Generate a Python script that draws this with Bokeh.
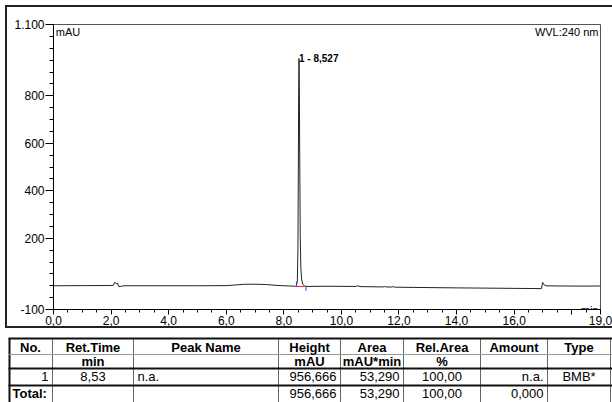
from bokeh.plotting import figure
from bokeh.models import Range1d, FixedTicker, Label
from bokeh.embed import file_html
from bokeh.resources import INLINE
from bokeh.core.properties import value

FONT = "Liberation Sans"

# ---- chromatogram trace ----
time_min = [0.0, 1.0, 2.0, 2.08, 2.12, 2.16, 2.19, 2.22, 2.27, 2.32, 2.45, 3.5, 5.0,
            6.0, 6.3, 6.6, 7.0, 7.4, 7.8, 8.2, 8.40, 8.44, 8.47, 8.49, 8.505, 8.515,
            8.527, 8.54, 8.555, 8.57, 8.59, 8.62, 8.66, 8.72, 8.8, 9.5, 10.5, 10.57,
            10.65, 11.45, 11.5, 11.55, 11.75, 11.8, 11.85, 12.5, 14.0, 15.5, 16.95,
            16.99, 17.03, 17.1, 17.5, 18.5, 19.0]
signal_mau = [0, 0.5, 1, 2, 14, 12, 8, 12, -4, -3, 0, 0, 0,
              0.5, 3, 6, 6.5, 5, 1, -1, -2, 2, 20, 150, 500, 800,
              956.666, 820, 500, 220, 80, 25, 6, -1, -3, -2, -3, 0,
              -3.5, -5, -3, -5, -5.5, -3.5, -6, -7, -9, -10.5, -12,
              14, 5, 0, -1, -1.5, -1]
assert len(time_min) == len(signal_mau)

# ---- peak ----
peak_label = ["1 - 8,527"]
peak_rt = [8.527]
peak_height = [956.666]
peak_start = [8.44]
peak_end = [8.77]
peak_base = [-3.0]

# ---- axes ----
x_ticks = [0, 2, 4, 6, 8, 10, 12, 14, 16, 18, 19]
x_tick_labels = ["0,0", "2,0", "4,0", "6,0", "8,0", "10,0", "12,0", "14,0", "16,0", "", "19,0"]
y_ticks = [-100, 200, 400, 600, 800, 1100]
y_tick_labels = ["-100", "200", "400", "600", "800", "1.100"]

# ---- peak table ----
table_headers = ["No.", "Ret.Time", "Peak Name", "Height", "Area", "Rel.Area", "Amount", "Type"]
table_units = ["", "min", "", "mAU", "mAU*min", "%", "", ""]
row_peak1 = ["1", "8,53", "n.a.", "956,666", "53,290", "100,00", "n.a.", "BMB*"]
row_total = ["Total:", "", "", "956,666", "53,290", "100,00", "0,000", ""]

# ================= chromatogram figure =================
p = figure(width=612, height=331, x_range=Range1d(0, 19), y_range=Range1d(-100, 1100),
           output_backend="svg", toolbar_location=None,
           min_border_left=53, min_border_right=12, min_border_top=24, min_border_bottom=22)
p.border_fill_alpha = 0
p.background_fill_color = "white"
p.outline_line_color = "#555555"
p.outline_line_width = 1
p.xgrid.visible = False
p.ygrid.visible = False
p.styles = {"box-shadow": ("inset 5px 5px 0 0 white, inset 0 -3px 0 0 white, "
                           "inset 7px 7px 0 0 #222222, inset 0 -5px 0 0 #222222")}

p.xaxis.ticker = FixedTicker(ticks=x_ticks, minor_ticks=[i * 0.5 for i in range(0, 39)])
p.xaxis.major_label_overrides = dict(zip(x_ticks, x_tick_labels))
p.yaxis.ticker = FixedTicker(ticks=y_ticks, minor_ticks=list(range(-100, 1101, 50)))
p.yaxis.major_label_overrides = dict(zip(y_ticks, y_tick_labels))
for ax in (p.xaxis[0], p.yaxis[0]):
    ax.axis_line_color = "black"
    ax.major_tick_line_color = "black"
    ax.minor_tick_line_color = "black"
    ax.major_label_text_font = FONT
    ax.major_label_text_font_size = "12px"
    ax.major_label_text_color = "black"
    ax.major_tick_in = 0
    ax.minor_tick_in = 0
p.yaxis.major_tick_out = 8
p.yaxis.minor_tick_out = 4
p.yaxis.major_label_standoff = 1
p.xaxis.major_tick_out = 5
p.xaxis.minor_tick_out = 3
p.xaxis.major_label_standoff = 1

p.line(time_min, signal_mau, line_color="#222222", line_width=1)

# integration markers
p.segment(x0=peak_start, y0=[b + 20 for b in peak_base], x1=peak_start, y1=[b - 2 for b in peak_base],
          line_color="#2040ff", line_width=1)
p.segment(x0=peak_end, y0=[b + 2 for b in peak_base], x1=peak_end, y1=[b - 18 for b in peak_base],
          line_color="#2040ff", line_width=1)
p.segment(x0=peak_start, y0=peak_base, x1=peak_end, y1=peak_base, line_color="#ff2020", line_width=1)

p.add_layout(Label(x=peak_rt[0], y=peak_height[0], text=peak_label[0], text_font=FONT,
                   text_font_size="10px", text_font_style="bold", text_align="left",
                   text_baseline="alphabetic", text_color="black"))
p.add_layout(Label(x=0.08, y=1092, text="mAU", text_font=FONT, text_font_size="11px",
                   text_align="left", text_baseline="top", text_color="black"))
p.add_layout(Label(x=18.93, y=1092, text="WVL:240 nm", text_font=FONT, text_font_size="11px",
                   text_align="right", text_baseline="top", text_color="black"))
p.add_layout(Label(x=18.93, y=-100, text="min", text_font=FONT, text_font_size="11px",
                   text_align="right", text_baseline="alphabetic", text_color="black"))

# ================= table figure =================
TW, TH = 612, 71
t = figure(width=TW, height=TH, x_range=Range1d(0, TW), y_range=Range1d(TH, 0),
           output_backend="svg", toolbar_location=None,
           min_border_left=0, min_border_right=0, min_border_top=0, min_border_bottom=0)
t.xaxis.visible = False
t.yaxis.visible = False
t.xgrid.visible = False
t.ygrid.visible = False
t.outline_line_color = None
t.border_fill_color = "white"

col_edges = [8, 52, 133, 278, 340, 403, 480, 547, 610]
row_lines_thick = [7, 37, 54]
row_line_thin = [23]
row_y = [16, 29.5, 45, 62]
data_align = ["right", "center", "left", "right", "right", "center", "right", "center"]

# vertical separators
inner = col_edges[1:-1]
t.segment(x0=inner, y0=[7] * len(inner), x1=inner, y1=[TH] * len(inner),
          line_color="#666666", line_width=1)
t.segment(x0=[col_edges[0] + 1], y0=[7], x1=[col_edges[0] + 1], y1=[TH],
          line_color="#111111", line_width=2)
t.segment(x0=[col_edges[-1]], y0=[7], x1=[col_edges[-1]], y1=[TH],
          line_color="#666666", line_width=1)
# horizontal lines
t.segment(x0=[col_edges[0]] * len(row_lines_thick), y0=row_lines_thick,
          x1=[TW] * len(row_lines_thick), y1=row_lines_thick, line_color="#111111", line_width=2)
t.segment(x0=[col_edges[0]], y0=row_line_thin, x1=[TW], y1=row_line_thin,
          line_color="#999999", line_width=1)


def xpos(i, align):
    l, r = col_edges[i], col_edges[i + 1]
    if align == "left":
        return l + 4
    if align == "right":
        return r - 4
    return (l + r) / 2


def put_row(texts, aligns, y, bold_flags):
    groups = {}
    for i, (s, a, b) in enumerate(zip(texts, aligns, bold_flags)):
        if not s:
            continue
        groups.setdefault((a, b), ([], [], []))
        g = groups[(a, b)]
        g[0].append(xpos(i, a))
        g[1].append(y)
        g[2].append(s)
    for (a, b), (xs, ys, ss) in groups.items():
        t.text(x=xs, y=ys, text=ss, text_align=a, text_baseline="middle",
               text_font=value(FONT), text_font_size="13px",
               text_font_style="bold" if b else "normal", text_color="black")


n = len(table_headers)
put_row(table_headers, ["center"] * n, row_y[0], [True] * n)
put_row(table_units, ["center"] * n, row_y[1], [True] * n)
put_row(row_peak1, data_align, row_y[2], [False] * n)
put_row(row_total, ["left"] + data_align[1:], row_y[3], [True] + [False] * (n - 1))

open("out.html", "w").write(file_html([p, t], INLINE))
